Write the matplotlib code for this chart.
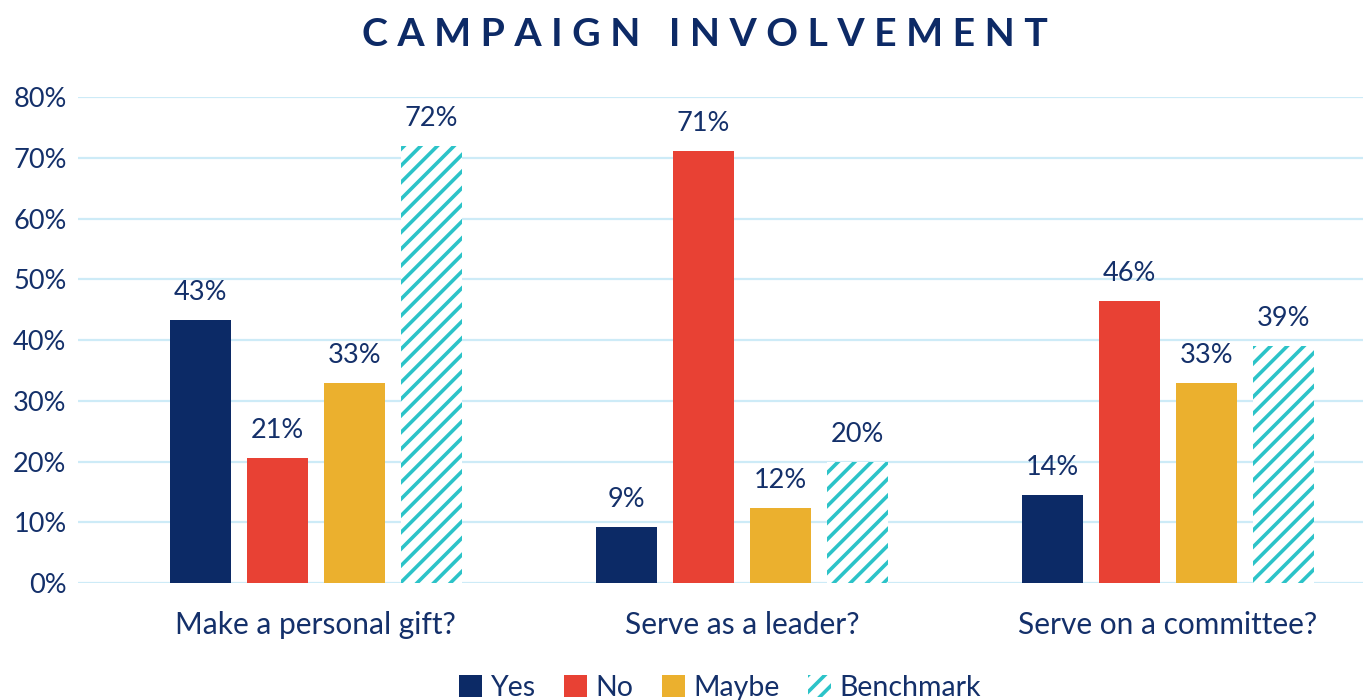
import numpy as np
import matplotlib
matplotlib.use("Agg")
import matplotlib.pyplot as plt

plt.rcParams['font.family'] = ['Lato', 'DejaVu Sans']
plt.rcParams['hatch.linewidth'] = 2.6

# Datos
preguntas = ["Make a personal gift?", "Serve as a leader?", "Serve on a committee?"]
series = ["Yes", "No", "Maybe", "Benchmark"]
yes = [43.3, 9.2, 14.5]
no = [20.6, 71.1, 46.4]
maybe = [32.9, 12.3, 32.9]
benchmark = [71.9, 19.9, 39.0]
ticks_y = [0, 10, 20, 30, 40, 50, 60, 70, 80]

azul = "#0D2A66"
texto = "#14306A"
colores = ["#0C2A66", "#E84134", "#EBB02E", "#2CC3C8"]
valores = [yes, no, maybe, benchmark]

fig = plt.figure(figsize=(13.63, 7.0), dpi=100)
ax = fig.add_axes([0.057, 0.167, 0.943, 0.694])

x = np.arange(len(preguntas))
ancho = 0.143
paso = 0.181

for i, (nombre, vals, color) in enumerate(zip(series, valores, colores)):
    pos = x + (i - 1.5) * paso
    if nombre == "Benchmark":
        barras = ax.bar(pos, vals, ancho, color="white", edgecolor=color,
                        hatch="//", linewidth=0, label=nombre, zorder=3)
    else:
        barras = ax.bar(pos, vals, ancho, color=color, linewidth=0,
                        label=nombre, zorder=3)
    for b, v in zip(barras, vals):
        ax.annotate(f"{v:.0f}%", (b.get_x() + b.get_width() / 2, v),
                    xytext=(0, 11), textcoords="offset points",
                    ha="center", va="bottom", fontsize=19.5, color=texto)

ax.set_xlim(-0.559, 2.458)
ax.set_ylim(0, 80)
ax.set_yticks(ticks_y)
ax.set_yticklabels([f"{t}%" for t in ticks_y])
ax.yaxis.grid(True, color="#CDEBF7", linewidth=1.6, zorder=0)
ax.set_axisbelow(True)
ax.tick_params(axis="y", length=0, pad=8, labelsize=19.5, labelcolor=texto)
ax.tick_params(axis="x", length=0, pad=20, labelsize=21.5, labelcolor=texto)
ax.set_xticks(x)
ax.set_xticklabels(preguntas)
for s in ax.spines.values():
    s.set_visible(False)

fig.text(0.517, 0.951, "C A M P A I G N   I N V O L V E M E N T",
         ha="center", va="center", fontsize=28.3, fontweight="bold", color=azul)

ax.legend(loc="center", bbox_to_anchor=(0.5, -0.215), ncol=4, frameon=False,
          fontsize=20.5, labelcolor=texto, handlelength=0.8, handleheight=0.8,
          handletextpad=0.3, columnspacing=1.0)

fig.savefig("out.png", dpi=100)
